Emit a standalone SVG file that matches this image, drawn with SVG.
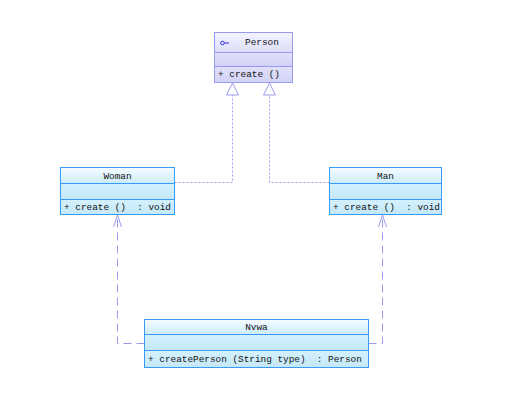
<svg xmlns="http://www.w3.org/2000/svg" width="530" height="410" viewBox="0 0 530 410">
<defs>
<linearGradient id="bh" x1="0" y1="0" x2="0" y2="1"><stop offset="0" stop-color="#f6fcff"/><stop offset="1" stop-color="#cbecfa"/></linearGradient>
<linearGradient id="bb" x1="0" y1="0" x2="0" y2="1"><stop offset="0" stop-color="#d4f0fc"/><stop offset="1" stop-color="#c4e8f8"/></linearGradient>
<linearGradient id="ph" x1="0" y1="0" x2="0" y2="1"><stop offset="0" stop-color="#f4f4ff"/><stop offset="1" stop-color="#dcdcfa"/></linearGradient>
<linearGradient id="pb" x1="0" y1="0" x2="0" y2="1"><stop offset="0" stop-color="#e0e0fb"/><stop offset="1" stop-color="#d2d2f6"/></linearGradient>
<marker id="tri" viewBox="0 0 14 14" refX="13" refY="7" markerWidth="14" markerHeight="14" markerUnits="userSpaceOnUse" orient="auto">
<path d="M1,1 L13,7 L1,13 Z" fill="#ffffff" stroke="#9a9af0" stroke-width="1"/>
</marker>
<marker id="open" viewBox="0 0 14 10" refX="13" refY="5" markerWidth="14" markerHeight="10" markerUnits="userSpaceOnUse" orient="auto">
<path d="M1,1 L13,5 L1,9" fill="none" stroke="#9a9af0" stroke-width="1"/>
</marker>
</defs>
<style>
text{font-family:"Liberation Mono","DejaVu Sans Mono",monospace;font-size:9.4px;fill:#111;white-space:pre}
.c{text-anchor:middle}
.bl{stroke:#3a9af8;stroke-width:1}
.pl{stroke:#9a9af0;stroke-width:1}
.inh{fill:none;stroke:#9a9af0;stroke-width:1;stroke-dasharray:2,2}
.dep{fill:none;stroke:#9a9af0;stroke-width:1;stroke-dasharray:8,5}
</style>
<rect width="530" height="410" fill="#ffffff"/>
<g id="connectors">
<path class="inh" d="M174.5,182.5 H232.5 V83" marker-end="url(#tri)"/>
<path class="inh" d="M329.5,182.5 H269.5 V83" marker-end="url(#tri)"/>
<path class="dep" d="M144.5,343.5 H117.5 V215" marker-end="url(#open)"/>
<path class="dep" d="M368.5,343.5 H382.5 V215" marker-end="url(#open)"/>
</g>
<g id="Person">
<rect x="214.5" y="32.5" width="78" height="20" fill="url(#ph)"/>
<rect x="214.5" y="52.5" width="78" height="14" fill="url(#pb)"/>
<rect x="214.5" y="66.5" width="78" height="16" fill="url(#pb)"/>
<rect x="214.5" y="32.5" width="78" height="50" fill="none" class="pl"/>
<line x1="214.5" y1="52.5" x2="292.5" y2="52.5" class="pl"/>
<line x1="214.5" y1="66.5" x2="292.5" y2="66.5" class="pl"/>
<circle cx="222.5" cy="43" r="1.8" fill="none" stroke="#3030e0" stroke-width="1"/>
<line x1="224.5" y1="43" x2="229" y2="43" stroke="#3030e0" stroke-width="1"/>
<text x="262" y="45" class="c">Person</text>
<text x="218" y="77">+ create ()</text>
</g>
<g id="Woman">
<rect x="60.5" y="167.5" width="114" height="16" fill="url(#bh)"/>
<rect x="60.5" y="183.5" width="114" height="16" fill="url(#bb)"/>
<rect x="60.5" y="199.5" width="114" height="15" fill="url(#bb)"/>
<rect x="60.5" y="167.5" width="114" height="47" fill="none" class="bl"/>
<line x1="60.5" y1="183.5" x2="174.5" y2="183.5" class="bl"/>
<line x1="60.5" y1="199.5" x2="174.5" y2="199.5" class="bl"/>
<text x="117.5" y="178.5" class="c">Woman</text>
<text x="64" y="210" xml:space="preserve">+ create ()  : void</text>
</g>
<g id="Man">
<rect x="329.5" y="167.5" width="112" height="16" fill="url(#bh)"/>
<rect x="329.5" y="183.5" width="112" height="16" fill="url(#bb)"/>
<rect x="329.5" y="199.5" width="112" height="15" fill="url(#bb)"/>
<rect x="329.5" y="167.5" width="112" height="47" fill="none" class="bl"/>
<line x1="329.5" y1="183.5" x2="441.5" y2="183.5" class="bl"/>
<line x1="329.5" y1="199.5" x2="441.5" y2="199.5" class="bl"/>
<text x="385.5" y="178.5" class="c">Man</text>
<text x="333" y="210" xml:space="preserve">+ create ()  : void</text>
</g>
<g id="Nvwa">
<rect x="144.5" y="319.5" width="224" height="15" fill="url(#bh)"/>
<rect x="144.5" y="334.5" width="224" height="16" fill="url(#bb)"/>
<rect x="144.5" y="350.5" width="224" height="17" fill="url(#bb)"/>
<rect x="144.5" y="319.5" width="224" height="48" fill="none" class="bl"/>
<line x1="144.5" y1="334.5" x2="368.5" y2="334.5" class="bl"/>
<line x1="144.5" y1="350.5" x2="368.5" y2="350.5" class="bl"/>
<text x="256.5" y="330" class="c">Nvwa</text>
<text x="148" y="362" xml:space="preserve">+ createPerson (String type)  : Person</text>
</g>
</svg>
